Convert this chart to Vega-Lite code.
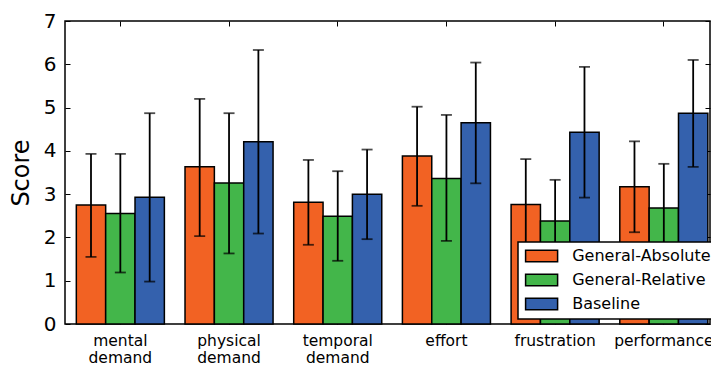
{
  "$schema": "https://vega.github.io/schema/vega-lite/v6.json",
  "autosize": "none",
  "width": 645,
  "height": 303,
  "padding": {"left": 65, "top": 21, "right": 1, "bottom": 42},
  "background": "white",
  "config": {
    "font": "DejaVu Sans",
    "view": {"stroke": "black", "strokeWidth": 1.5},
    "axis": {"grid": false, "domain": false, "labelColor": "black", "titleColor": "black", "tickColor": "black", "labelFont": "DejaVu Sans", "titleFont": "DejaVu Sans", "titleFontWeight": "normal"},
    "axisLeft": {"labelFontSize": 20, "titleFontSize": 24, "labelOverlap": false},
    "legend": {"strokeWidth": 1.5}
  },
  "data": {
    "values": [
      {"category": "mental demand", "group": "General-Absolute", "mean": 2.75, "lo": 1.55, "hi": 3.93},
      {"category": "mental demand", "group": "General-Relative", "mean": 2.55, "lo": 1.19, "hi": 3.93},
      {"category": "mental demand", "group": "Baseline", "mean": 2.93, "lo": 0.98, "hi": 4.87},
      {"category": "physical demand", "group": "General-Absolute", "mean": 3.63, "lo": 2.03, "hi": 5.2},
      {"category": "physical demand", "group": "General-Relative", "mean": 3.26, "lo": 1.63, "hi": 4.87},
      {"category": "physical demand", "group": "Baseline", "mean": 4.21, "lo": 2.09, "hi": 6.33},
      {"category": "temporal demand", "group": "General-Absolute", "mean": 2.81, "lo": 1.83, "hi": 3.79},
      {"category": "temporal demand", "group": "General-Relative", "mean": 2.49, "lo": 1.46, "hi": 3.53},
      {"category": "temporal demand", "group": "Baseline", "mean": 3.0, "lo": 1.96, "hi": 4.03},
      {"category": "effort", "group": "General-Absolute", "mean": 3.88, "lo": 2.73, "hi": 5.02},
      {"category": "effort", "group": "General-Relative", "mean": 3.36, "lo": 1.92, "hi": 4.83},
      {"category": "effort", "group": "Baseline", "mean": 4.65, "lo": 3.25, "hi": 6.04},
      {"category": "frustration", "group": "General-Absolute", "mean": 2.76, "lo": 1.71, "hi": 3.81},
      {"category": "frustration", "group": "General-Relative", "mean": 2.38, "lo": 1.43, "hi": 3.33},
      {"category": "frustration", "group": "Baseline", "mean": 4.43, "lo": 2.92, "hi": 5.94},
      {"category": "performance", "group": "General-Absolute", "mean": 3.17, "lo": 2.12, "hi": 4.22},
      {"category": "performance", "group": "General-Relative", "mean": 2.68, "lo": 1.66, "hi": 3.7},
      {"category": "performance", "group": "Baseline", "mean": 4.87, "lo": 3.63, "hi": 6.1}
    ]
  },
  "layer": [
    {
      "mark": {"type": "bar", "stroke": "black", "strokeWidth": 1.5},
      "encoding": {
        "x": {"field": "category", "type": "nominal", "sort": null,
              "scale": {"paddingInner": 0.19, "paddingOuter": 0.062, "align": 0.84},
              "axis": {"orient": "bottom", "title": null, "labelAngle": 0, "labelFontSize": 15.5, "labelExpr": "split(datum.label, ' ')", "labelLineHeight": 17, "tickSize": -5, "labelPadding": 14, "labelBaseline": "top"}},
        "xOffset": {"field": "group", "type": "nominal", "sort": ["General-Absolute", "General-Relative", "Baseline"], "scale": {"paddingInner": 0, "paddingOuter": 0}},
        "y": {"field": "mean", "type": "quantitative",
              "scale": {"domain": [0, 7], "nice": false},
              "axis": {"orient": "left", "title": "Score", "values": [0,1,2,3,4,5,6,7], "tickSize": -5, "labelPadding": 14, "titlePadding": 10}},
        "color": {"field": "group", "type": "nominal",
                  "scale": {"domain": ["General-Absolute", "General-Relative", "Baseline"], "range": ["#F26223", "#43B64A", "#3461AD"]},
                  "legend": {"title": null, "orient": "none", "legendX": 453, "legendY": 221,
                             "symbolType": "M-2.5,-0.9H2.5V0.9H-2.5Z", "symbolSize": 164, "symbolOffset": 9.6, "symbolStrokeColor": "black", "symbolStrokeWidth": 1.5,
                             "labelFontSize": 16, "labelColor": "black", "labelOffset": 22.6, "rowPadding": 6,
                             "fillColor": "white", "strokeColor": "black", "padding": 6, "symbolOpacity": 1}}
      }
    },
    {
      "mark": {"type": "rule", "color": "black", "strokeWidth": 1.8},
      "encoding": {
        "x": {"field": "category", "type": "nominal", "sort": null,
              "axis": {"orient": "top", "title": null, "labels": false, "tickSize": -5, "domain": false}},
        "xOffset": {"field": "group", "type": "nominal", "sort": ["General-Absolute", "General-Relative", "Baseline"]},
        "y": {"field": "lo", "type": "quantitative",
              "axis": {"orient": "right", "title": null, "labels": false, "tickSize": -5, "values": [0,1,2,3,4,5,6,7]}},
        "y2": {"field": "hi"}
      }
    },
    {
      "mark": {"type": "tick", "color": "black", "size": 11, "thickness": 1.8},
      "encoding": {
        "x": {"field": "category", "type": "nominal", "sort": null, "axis": null},
        "xOffset": {"field": "group", "type": "nominal", "sort": ["General-Absolute", "General-Relative", "Baseline"]},
        "y": {"field": "hi", "type": "quantitative", "axis": null}
      }
    },
    {
      "mark": {"type": "tick", "color": "black", "size": 11, "thickness": 1.8},
      "encoding": {
        "x": {"field": "category", "type": "nominal", "sort": null, "axis": null},
        "xOffset": {"field": "group", "type": "nominal", "sort": ["General-Absolute", "General-Relative", "Baseline"]},
        "y": {"field": "lo", "type": "quantitative", "axis": null}
      }
    }
  ],
  "resolve": {"axis": {"x": "independent", "y": "independent"}}
}
